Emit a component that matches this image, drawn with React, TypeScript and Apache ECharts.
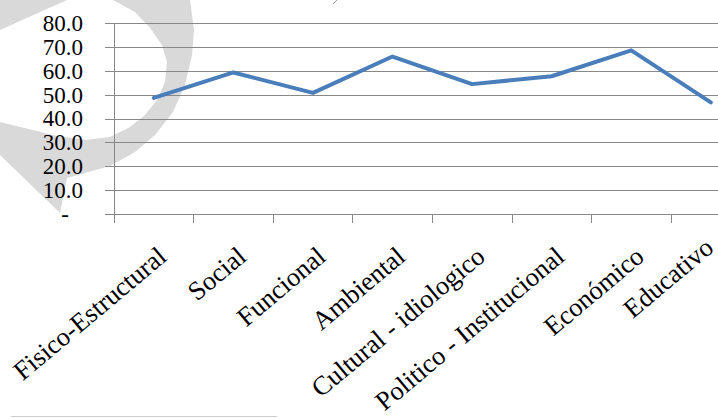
import React, { useEffect, useRef } from "react";
import * as echarts from "echarts";

const categories = [
  "Fisico-Estructural",
  "Social",
  "Funcional",
  "Ambiental",
  "Cultural - idiologico",
  "Politico - Institucional",
  "Económico",
  "Educativo",
];
const values = [48.8, 59.5, 50.9, 66.2, 54.6, 57.9, 68.8, 46.9];
const yMin = 0;
const yMax = 80;
const yStep = 10;

const FONT = "'Liberation Serif', 'Times New Roman', serif";

export default function App() {
  const ref = useRef<HTMLDivElement>(null);
  useEffect(() => {
    if (!ref.current) return;
    const chart = echarts.init(ref.current, undefined, { renderer: "svg" });
    const lastIndex = categories.length - 1;
    const xData = categories.map((c, i) =>
      i === lastIndex
        ? { value: c, textStyle: { verticalAlign: "middle", padding: [0, 2, 0, 0] } }
        : c
    );
    chart.setOption({
      animation: false,
      backgroundColor: "#ffffff",
      grid: {
        left: 114,
        top: 23.7,
        bottom: 204,
        right: -32.6,
        containLabel: false,
        outerBoundsMode: "none",
      },
      xAxis: {
        type: "category",
        data: xData,
        boundaryGap: true,
        axisLine: { show: true, lineStyle: { color: "#888888", width: 1 } },
        axisTick: { show: true, length: 9, lineStyle: { color: "#888888" } },
        axisLabel: {
          rotate: 40,
          interval: 0,
          margin: 28,
          align: "right",
          verticalAlign: "top",
          fontFamily: FONT,
          fontSize: 26.5,
          color: "#000000",
        },
        splitLine: { show: false },
      },
      yAxis: {
        type: "value",
        min: yMin,
        max: yMax,
        interval: yStep,
        axisLine: { show: true, lineStyle: { color: "#888888", width: 1 } },
        axisTick: { show: true, length: 9, lineStyle: { color: "#888888" } },
        splitLine: { show: true, lineStyle: { color: "#888888", width: 1 } },
        axisLabel: {
          margin: 31,
          showMinLabel: true,
          showMaxLabel: true,
          hideOverlap: false,
          fontFamily: FONT,
          fontSize: 23,
          color: "#000000",
          formatter: (v: number) => (v === 0 ? "{d|-}" : v.toFixed(1)),
          rich: {
            d: { fontFamily: FONT, fontSize: 23, color: "#000000", padding: [0, 14, 0, 0] },
          },
        },
      },
      series: [
        {
          type: "line",
          data: values,
          symbol: "none",
          lineStyle: { color: "#4A7EBB", width: 4, cap: "round", join: "round" },
          z: 3,
        },
      ],
      graphic: [
        {
          type: "polygon",
          z: -10,
          shape: { points: [[0, 0], [67, 0], [0, 30]] },
          style: { fill: "#d9d9d9" },
          silent: true,
        },
        {
          type: "polygon",
          z: -10,
          shape: {
            points: [
              [113, 0], [190, 0], [194, 30], [192, 55], [185, 85], [173, 112], [155, 135],
              [135, 152], [110, 166], [67, 178], [60, 213], [0, 155], [0, 122], [57, 136],
              [85, 140], [110, 137], [130, 127], [145, 115], [157, 100], [165, 82], [167, 62],
              [162, 45], [150, 28], [135, 12],
            ],
          },
          style: { fill: "#d9d9d9" },
          silent: true,
        },
        {
          type: "line",
          shape: { x1: 11, y1: 416.5, x2: 277, y2: 416.5 },
          style: { stroke: "#cfcfcf", lineWidth: 1 },
          silent: true,
        },
        {
          type: "line",
          shape: { x1: 333, y1: 4, x2: 337, y2: 0 },
          style: { stroke: "#9a9a9a", lineWidth: 1 },
          silent: true,
        },
      ],
    });
    return () => chart.dispose();
  }, []);
  return (
    <div
      ref={ref}
      style={{ position: "fixed", left: 0, top: 0, width: 718, height: 418 }}
    />
  );
}
